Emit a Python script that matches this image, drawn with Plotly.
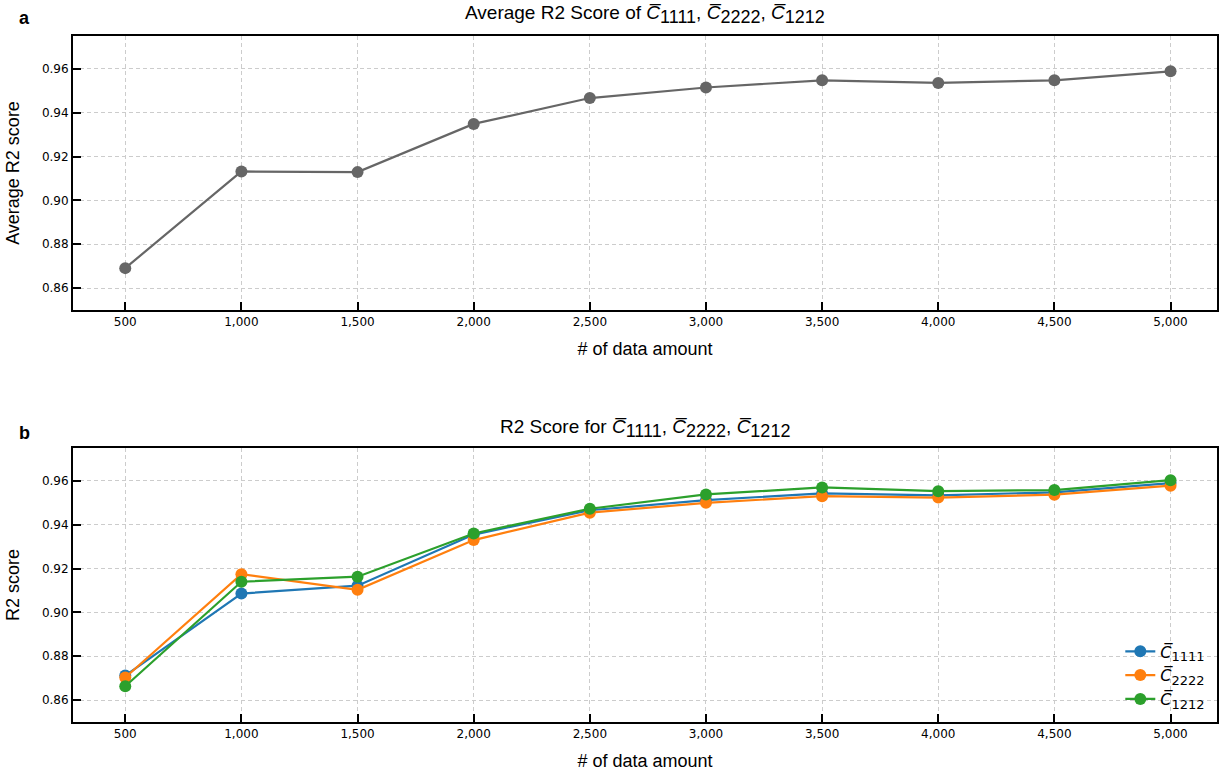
import plotly.graph_objects as go

data_amount = [500, 1000, 1500, 2000, 2500, 3000, 3500, 4000, 4500, 5000]
tick_labels = ["500", "1,000", "1,500", "2,000", "2,500", "3,000", "3,500", "4,000", "4,500", "5,000"]
avg_r2 = [0.8691, 0.9132, 0.9129, 0.9349, 0.9467, 0.9515, 0.9548, 0.9536, 0.9548, 0.9589]
r2_c1111 = [0.8712, 0.9086, 0.9122, 0.9355, 0.9466, 0.9512, 0.9543, 0.9534, 0.9548, 0.9590]
r2_c2222 = [0.8703, 0.9174, 0.9103, 0.9330, 0.9455, 0.9500, 0.9530, 0.9524, 0.9537, 0.9578]
r2_c1212 = [0.8663, 0.9140, 0.9163, 0.9360, 0.9473, 0.9538, 0.9570, 0.9553, 0.9558, 0.9603]


def cbar(idx, sub_px):
    return "<i>C̅</i><sub><span style='font-size:%dpx'>%s</span></sub>" % (sub_px, idx)


def title_c(sub_px):
    return cbar("1111", sub_px) + ", " + cbar("2222", sub_px) + ", " + cbar("1212", sub_px)


fig = go.Figure()
fig.add_trace(go.Scatter(x=data_amount, y=avg_r2, mode="lines+markers",
                         line=dict(color="#666666", width=2.2), marker=dict(size=12, color="#666666"),
                         showlegend=False, xaxis="x", yaxis="y"))
for idx, vals, col in [("1111", r2_c1111, "#1f77b4"), ("2222", r2_c2222, "#ff7f0e"), ("1212", r2_c1212, "#2ca02c")]:
    fig.add_trace(go.Scatter(x=data_amount, y=vals, mode="lines+markers", name=cbar(idx, 13),
                             line=dict(color=col, width=2.2), marker=dict(size=12, color=col),
                             xaxis="x2", yaxis="y2"))

tickfont = dict(family="DejaVu Sans", size=12, color="black")
titlefont = dict(family="Liberation Sans, Arial", size=18, color="black")

def xax(domain_anchor):
    return dict(domain=[73/1225, 1217/1225], range=[275, 5200], anchor=domain_anchor,
                tickvals=data_amount, ticktext=tick_labels, ticks="inside", ticklen=8, tickwidth=1.5,
                tickcolor="black", showline=True, mirror=True, linecolor="black", linewidth=2,
                showgrid=True, gridcolor="#cccccc", griddash="4px,3px", gridwidth=1,
                tickfont=tickfont, zeroline=False, automargin=False,
                title=dict(text="# of data amount", font=titlefont, standoff=14))

def yax(domain, anchor, title):
    return dict(domain=domain, range=[0.85, 0.975], anchor=anchor,
                tickvals=[0.86, 0.88, 0.90, 0.92, 0.94, 0.96],
                ticktext=["0.86", "0.88", "0.90", "0.92", "0.94", "0.96"],
                ticks="inside", ticklen=8, tickwidth=1.5, tickcolor="black",
                showline=True, mirror=True, linecolor="black", linewidth=2,
                showgrid=True, gridcolor="#cccccc", griddash="4px,3px", gridwidth=1,
                tickfont=tickfont, zeroline=False, automargin=False,
                title=dict(text=title, font=titlefont, standoff=18))

fig.update_layout(
    width=1225, height=777,
    margin=dict(l=0, r=0, t=0, b=0, autoexpand=False),
    plot_bgcolor="white", paper_bgcolor="white",
    xaxis=xax("y"),
    yaxis=yax([(777-310)/777, (777-36)/777], "x", "Average R2 score"),
    xaxis2=xax("y2"),
    yaxis2=yax([(777-722)/777, (777-448)/777], "x2", "R2 score"),
    legend=dict(x=0.988, y=0.078, xanchor="right", yanchor="bottom",
                bgcolor="rgba(0,0,0,0)", font=dict(family="DejaVu Sans", size=16, color="black"),
                tracegroupgap=0),
    annotations=[
        dict(text="Average R2 Score of " + title_c(18),
             x=645/1225, y=1, yanchor="top", xref="paper", yref="paper", showarrow=False,
             font=dict(family="Liberation Sans, Arial", size=19, color="black")),
        dict(text="R2 Score for " + title_c(18),
             x=645/1225, y=(777-428)/777, xref="paper", yref="paper", showarrow=False,
             font=dict(family="Liberation Sans, Arial", size=19, color="black")),
        dict(text="<b>a</b>", x=17/1225, y=(777-6)/777, yanchor="top", xref="paper", yref="paper", showarrow=False,
             font=dict(family="Liberation Sans, Arial", size=18, color="black")),
        dict(text="<b>b</b>", x=17/1225, y=(777-433)/777, xref="paper", yref="paper", showarrow=False,
             font=dict(family="Liberation Sans, Arial", size=18, color="black")),
    ],
)

fig.write_html("out.html", config={"displayModeBar": False},
               post_script="document.body.style.margin='0';document.body.style.padding='0';document.body.style.overflow='hidden';")
